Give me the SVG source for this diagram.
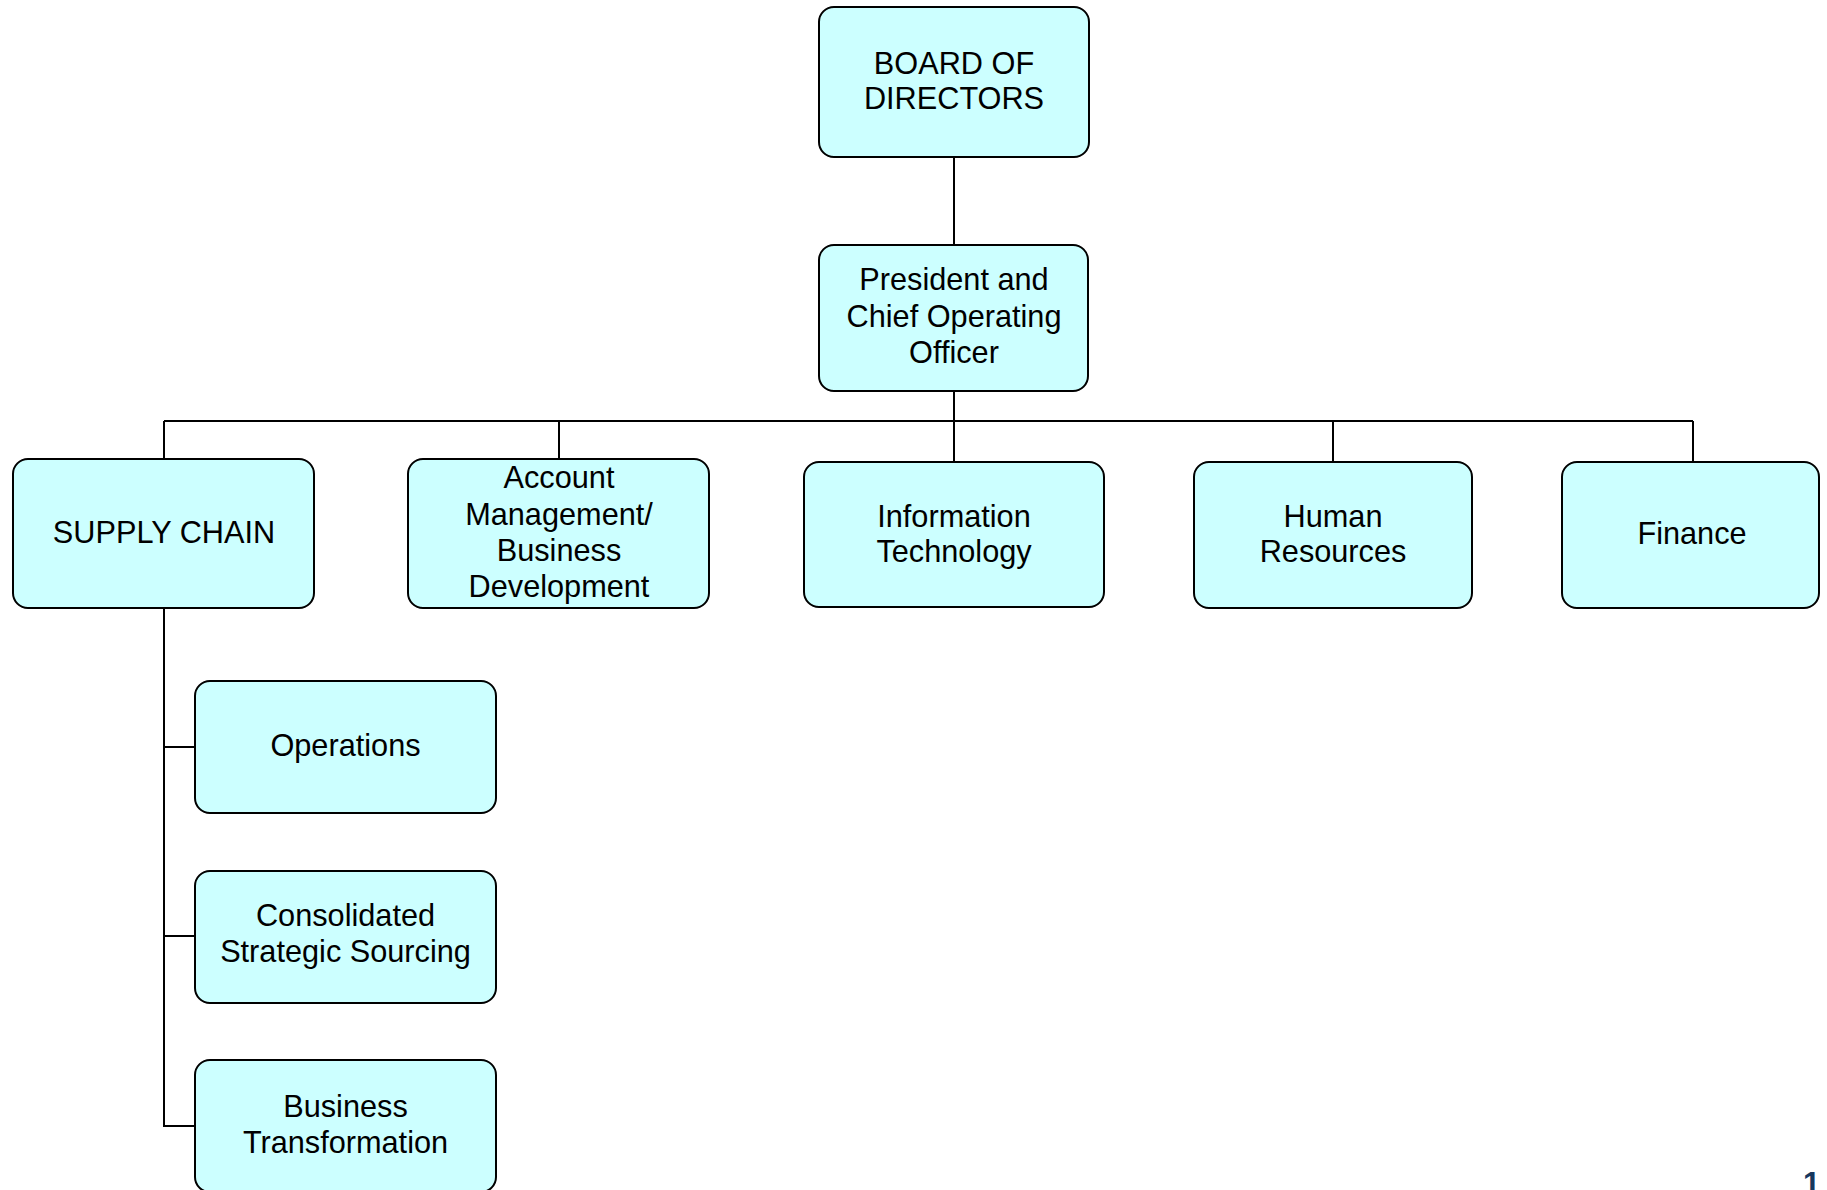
<svg xmlns="http://www.w3.org/2000/svg" width="1827" height="1190" viewBox="0 0 1827 1190">
<style>
.box{fill:#CCFFFF;stroke:#000;stroke-width:2}
.lbl{font-family:"Liberation Sans",Arial,sans-serif;font-size:30.7px;fill:#000;text-anchor:middle}
.con{stroke:#000;stroke-width:2;fill:none}
.pg{font-family:"Liberation Sans",Arial,sans-serif;font-size:31px;font-weight:bold;fill:#17375E}
</style>
<rect width="1827" height="1190" fill="#fff"/>
<g id="connectors">
<line class="con" x1="954" y1="157" x2="954" y2="245"/>
<line class="con" x1="954" y1="391" x2="954" y2="462"/>
<line class="con" x1="164" y1="421" x2="1693" y2="421"/>
<line class="con" x1="164" y1="421" x2="164" y2="459"/>
<line class="con" x1="559" y1="421" x2="559" y2="459"/>
<line class="con" x1="1333" y1="421" x2="1333" y2="462"/>
<line class="con" x1="1693" y1="421" x2="1693" y2="462"/>
<polyline class="con" points="164,608 164,1126 195,1126"/>
<line class="con" x1="164" y1="747" x2="195" y2="747"/>
<line class="con" x1="164" y1="936" x2="195" y2="936"/>
</g>
<g id="board">
<rect class="box" x="819" y="7" width="270" height="150" rx="15"/>
<text class="lbl" x="954" y="74">BOARD OF</text>
<text class="lbl" x="954" y="109">DIRECTORS</text>
</g>
<g id="president">
<rect class="box" x="819" y="245" width="269" height="146" rx="15"/>
<text class="lbl" x="954" y="290">President and</text>
<text class="lbl" x="954" y="326.5">Chief Operating</text>
<text class="lbl" x="954" y="363">Officer</text>
</g>
<g id="supply-chain">
<rect class="box" x="13" y="459" width="301" height="149" rx="15"/>
<text class="lbl" x="164" y="543">SUPPLY CHAIN</text>
</g>
<g id="account-management">
<rect class="box" x="408" y="459" width="301" height="149" rx="15"/>
<text class="lbl" x="559" y="488">Account</text>
<text class="lbl" x="559" y="524.5">Management/</text>
<text class="lbl" x="559" y="560.5">Business</text>
<text class="lbl" x="559" y="596.5">Development</text>
</g>
<g id="information-technology">
<rect class="box" x="804" y="462" width="300" height="145" rx="15"/>
<text class="lbl" x="954" y="527">Information</text>
<text class="lbl" x="954" y="562">Technology</text>
</g>
<g id="human-resources">
<rect class="box" x="1194" y="462" width="278" height="146" rx="15"/>
<text class="lbl" x="1333" y="527">Human</text>
<text class="lbl" x="1333" y="562">Resources</text>
</g>
<g id="finance">
<rect class="box" x="1562" y="462" width="257" height="146" rx="15"/>
<text class="lbl" x="1692" y="544">Finance</text>
</g>
<g id="operations">
<rect class="box" x="195" y="681" width="301" height="132" rx="15"/>
<text class="lbl" x="345.5" y="756">Operations</text>
</g>
<g id="consolidated-strategic-sourcing">
<rect class="box" x="195" y="871" width="301" height="132" rx="15"/>
<text class="lbl" x="345.5" y="926">Consolidated</text>
<text class="lbl" x="345.5" y="961.5">Strategic Sourcing</text>
</g>
<g id="business-transformation">
<rect class="box" x="195" y="1060" width="301" height="132" rx="15"/>
<text class="lbl" x="345.5" y="1117">Business</text>
<text class="lbl" x="345.5" y="1152.5">Transformation</text>
</g>
<text class="pg" x="1803" y="1194">1</text>
</svg>
